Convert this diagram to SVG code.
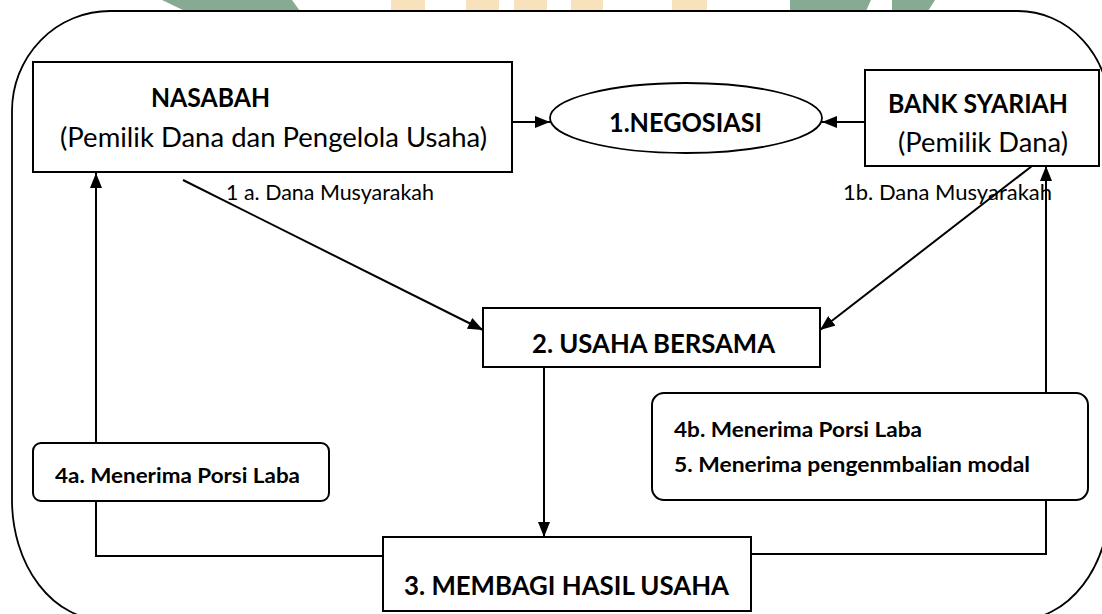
<svg xmlns="http://www.w3.org/2000/svg" width="1102" height="614" viewBox="0 0 1102 614">
<style>
.t{font-family:Lato,"Liberation Sans",sans-serif;fill:#000}
.b{font-weight:700}
.box{fill:#fff;stroke:#000;stroke-width:2}
.ln{fill:none;stroke:#000;stroke-width:2}
.wg{fill:#86aa92}
.wy{fill:#f8e2bb}
</style>
<defs>
<marker id="ah" markerUnits="userSpaceOnUse" markerWidth="15" markerHeight="12" refX="15" refY="6" orient="auto">
<path d="M0,0 L15,6 L0,12 Z" fill="#000"/>
</marker>
</defs>
<rect width="1102" height="614" fill="#fff"/>
<g id="watermark">
<polygon class="wg" points="162,0 292,0 300,11 185,11"/>
<rect class="wy" x="391" y="0" width="34" height="11"/>
<rect class="wy" x="466" y="0" width="33" height="11"/>
<rect class="wy" x="514" y="0" width="33" height="11"/>
<rect class="wy" x="571" y="0" width="32" height="11"/>
<rect class="wy" x="672" y="0" width="35" height="11"/>
<polygon class="wg" points="790,0 871,0 866,11 790,11"/>
<polygon class="wg" points="892,0 935,0 928,11 892,11"/>
</g>
<path id="frame" d="M12,111 A98,100 0 0 1 110,11 H1018 A92,100 0 0 1 1110,111 V500 A92,120 0 0 1 1018,620 H104 A92,120 0 0 1 12,500 Z" fill="none" stroke="#000" stroke-width="1.8"/>
<g id="connectors">
<line class="ln" x1="512" y1="122" x2="550" y2="122" marker-end="url(#ah)"/>
<line class="ln" x1="865" y1="122" x2="822" y2="122" marker-end="url(#ah)"/>
<line class="ln" x1="183" y1="180" x2="483" y2="330" marker-end="url(#ah)"/>
<line class="ln" x1="1032" y1="166" x2="820" y2="330" marker-end="url(#ah)"/>
<line class="ln" x1="544" y1="367" x2="544" y2="537" marker-end="url(#ah)"/>
<polyline class="ln" points="383,556 96,556 96,501"/>
<line class="ln" x1="96" y1="443" x2="96" y2="173" marker-end="url(#ah)"/>
<polyline class="ln" points="751,554 1046,554 1046,500"/>
<line class="ln" x1="1046" y1="393" x2="1046" y2="166" marker-end="url(#ah)"/>
</g>
<g id="nasabah">
<rect class="box" x="33" y="62" width="479" height="110"/>
<text class="t b" x="151" y="107" font-size="26" textLength="119" lengthAdjust="spacingAndGlyphs">NASABAH</text>
<text class="t" x="60" y="147" font-size="26" textLength="427" lengthAdjust="spacingAndGlyphs">(Pemilik Dana dan Pengelola Usaha)</text>
</g>
<g id="negosiasi">
<ellipse cx="686" cy="118" rx="136" ry="35" fill="#fff" stroke="#000" stroke-width="1.8"/>
<text class="t b" x="609" y="132" font-size="26" textLength="153" lengthAdjust="spacingAndGlyphs">1.NEGOSIASI</text>
</g>
<g id="bank">
<rect class="box" x="865" y="70" width="234" height="96"/>
<text class="t b" x="888" y="113" font-size="26" textLength="180" lengthAdjust="spacingAndGlyphs">BANK SYARIAH</text>
<text class="t" x="898" y="152" font-size="26" textLength="170" lengthAdjust="spacingAndGlyphs">(Pemilik Dana)</text>
</g>
<g id="labels">
<text class="t" x="226" y="200" font-size="21.5" textLength="208" lengthAdjust="spacingAndGlyphs">1 a. Dana Musyarakah</text>
<text class="t" x="843" y="200" font-size="21.5" textLength="209" lengthAdjust="spacingAndGlyphs">1b. Dana Musyarakah</text>
</g>
<g id="usaha">
<rect class="box" x="483" y="308" width="337" height="59"/>
<text class="t b" x="532" y="353" font-size="26" textLength="243" lengthAdjust="spacingAndGlyphs">2. USAHA BERSAMA</text>
</g>
<g id="porsi4a">
<rect class="box" x="33" y="443" width="296" height="58" rx="8"/>
<text class="t b" x="55" y="483" font-size="21.5" textLength="245" lengthAdjust="spacingAndGlyphs">4a. Menerima Porsi Laba</text>
</g>
<g id="porsi4b">
<rect class="box" x="652" y="393" width="436" height="107" rx="12"/>
<text class="t b" x="674" y="437" font-size="21.5" textLength="248" lengthAdjust="spacingAndGlyphs">4b. Menerima Porsi Laba</text>
<text class="t b" x="674" y="472" font-size="21.5" textLength="356" lengthAdjust="spacingAndGlyphs">5. Menerima pengenmbalian modal</text>
</g>
<g id="membagi">
<rect class="box" x="383" y="537" width="368" height="74"/>
<text class="t b" x="404" y="595" font-size="26" textLength="325" lengthAdjust="spacingAndGlyphs">3. MEMBAGI HASIL USAHA</text>
</g>
</svg>
